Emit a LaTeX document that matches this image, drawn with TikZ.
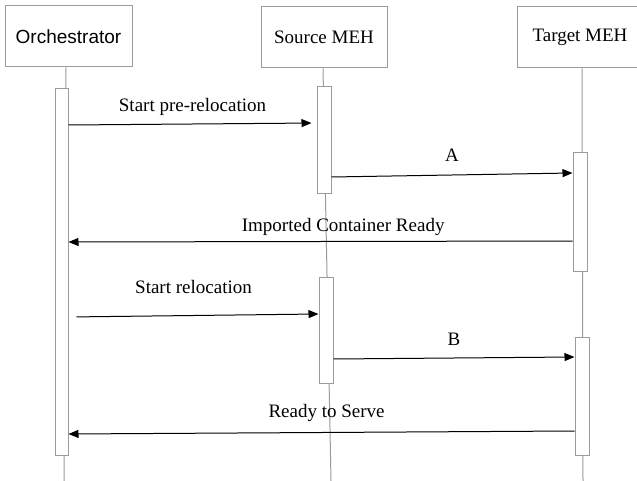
\documentclass[tikz,border=0pt]{standalone}
\usepackage{fontspec}
\setmainfont{Liberation Serif}
\newfontfamily\headsans{Liberation Sans}
\usetikzlibrary{arrows.meta, positioning}
\definecolor{linegray}{HTML}{9B9B9B}

\begin{document}
\begin{tikzpicture}[
    x=1pt, y=-1pt,
    actor/.style={
        rectangle,
        draw=linegray,
        line width=1pt,
        minimum width=126pt,
        minimum height=61pt,
        inner sep=0pt,
        font=\fontsize{19}{22}\selectfont
    },
    act/.style={
        rectangle,
        draw=linegray,
        fill=white,
        line width=1pt,
        minimum width=14pt,
        inner sep=0pt
    },
    life/.style={draw=linegray, line width=1pt},
    msg/.style={-{Triangle[length=10pt,width=8pt]}, line width=1pt},
    lbl/.style={anchor=base, inner sep=0pt, font=\fontsize{19}{22}\selectfont}
]

\useasboundingbox (0,0) rectangle (637,481);
\clip (0,0) rectangle (637,481);

% participants
\node[actor, minimum width=127pt, font=\headsans\fontsize{19}{22}\selectfont] (orch) at (68.5,36.5) {Orchestrator};
\node[actor] (src) at (324,37.5) {Source MEH};
\node[actor] (tgt) at (580,37.5) {Target MEH};

\coordinate (orchend) at (64,481);
\coordinate (srcend) at (331,481);
\coordinate (tgtend) at (583,481);

% lifelines
\draw[life] ([xshift=-2.5pt]orch.south) -- (orchend);
\draw[life] ([xshift=-1pt]src.south) -- (srcend);
\draw[life] ([xshift=2pt]tgt.south) -- (tgtend);

% activations
\node[act, minimum width=13pt, minimum height=366pt] (oa) at (61.5,272) {};
\node[act, minimum height=107pt] (sa1) at (324,140.5) {};
\node[act, minimum height=106pt] (sa2) at (326,330) {};
\node[act, minimum height=118pt] (ta1) at (580,212) {};
\node[act, minimum height=118pt] (ta2) at (582,396) {};

% messages
\draw[msg, shorten >=5pt] (oa.east |- 0,125) -- (sa1.west |- 0,123)
    node[lbl, midway, yshift=12pt] {Start pre-relocation};
\draw[msg] (sa1.east |- 0,177) -- (ta1.west |- 0,173)
    node[lbl, midway, yshift=13pt] {A};
\draw[msg] (ta1.west |- 0,241) -- (oa.east |- 0,242)
    node[lbl, pos=0.455, yshift=10pt] {Imported Container Ready};
\draw[msg, shorten <=8pt] (oa.east |- 0,317) -- (sa2.west |- 0,314)
    node[lbl, midway, yshift=22pt] {Start relocation};
\draw[msg] (sa2.east |- 0,359) -- (ta2.west |- 0,357)
    node[lbl, midway, yshift=13pt] {B};
\draw[msg] (ta2.west |- 0,431) -- (oa.east |- 0,434)
    node[lbl, pos=0.49, yshift=15pt] {Ready to Serve};

\end{tikzpicture}
\end{document}
